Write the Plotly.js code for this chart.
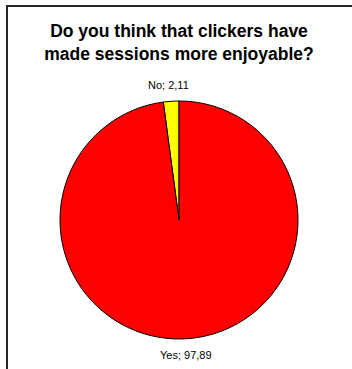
<!DOCTYPE html>
<html>
<head>
<meta charset="utf-8">
<script src="https://cdn.plot.ly/plotly-3.0.1.min.js"></script>
<style>html,body{margin:0;padding:0;background:#fff;}#chart{width:352px;height:369px;}</style>
</head>
<body>
<div id="chart"></div>
<script>
const categories = ["No", "Yes"];
const values = [2.11, 97.89];
const sliceColors = ["#FFFF00", "#FF0000"];
const titleText = "Do you think that clickers have<br>made sessions more enjoyable?";

const W = 352, H = 369;
const M = {l: 60, r: 54, t: 100, b: 29};
const pw = W - M.l - M.r, ph = H - M.t - M.b;
const px = x => (x - M.l) / pw;
const py = y => 1 - (y - M.t) / ph;
const font = "Liberation Sans, Arial, sans-serif";
const total = values.reduce((a, b) => a + b, 0);

const data = [{
  type: "pie",
  labels: categories,
  values: values,
  sort: false,
  direction: "clockwise",
  rotation: -360 * values[0] / total,
  marker: {colors: sliceColors, line: {color: "#000000", width: 1}},
  textinfo: "none",
  hoverinfo: "none",
  showlegend: false
}];

// label positions (pixel) for the outside data labels
const labelPos = [[168, 85], [186, 355]];
const annotations = categories.map((c, i) => ({
  text: c + "; " + values[i].toFixed(2).replace(".", ","),
  xref: "paper", yref: "paper",
  x: px(labelPos[i][0]), y: py(labelPos[i][1]),
  xanchor: "center", yanchor: "middle",
  showarrow: false,
  font: {family: font, size: 11, color: "#000000"}
}));

const layout = {
  width: W, height: H,
  margin: M,
  paper_bgcolor: "#ffffff",
  title: {
    text: "<b>" + titleText + "</b>",
    font: {family: font, size: 17.5, color: "#000000"},
    x: 0.5, xref: "paper", y: 0.9, yref: "container", yanchor: "top"
  },
  annotations: annotations,
  shapes: [{
    type: "rect", xref: "paper", yref: "paper",
    x0: px(7), x1: px(370), y0: py(6), y1: py(390),
    line: {color: "#262626", width: 2}, fillcolor: "rgba(0,0,0,0)", layer: "below"
  }],
  showlegend: false
};

Plotly.newPlot("chart", data, layout, {staticPlot: true, displayModeBar: false});
</script>
</body>
</html>
